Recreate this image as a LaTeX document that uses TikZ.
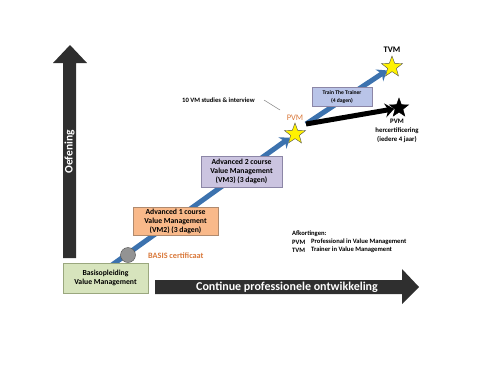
\documentclass[tikz,border=0pt]{standalone}
\usepackage{fontspec}
\setmainfont{Carlito}
\usetikzlibrary{shapes.geometric,arrows.meta}
\definecolor{darkarr}{HTML}{2F2F2F}
\definecolor{blueline}{HTML}{3C72AE}
\definecolor{greenfill}{HTML}{D7E4BD}
\definecolor{greenedge}{HTML}{9AA77E}
\definecolor{orangefill}{HTML}{F9B98A}
\definecolor{orangeedge}{HTML}{B08A6E}
\definecolor{lavfill}{HTML}{CBC4E0}
\definecolor{lavedge}{HTML}{8C86A6}
\definecolor{bluefill}{HTML}{B9C4E8}
\definecolor{orangetext}{HTML}{D9783A}
\tikzset{
  boxstyle/.style={draw, line width=0.8pt, align=center, font=\fontsize{7.7}{9}\selectfont\bfseries, inner sep=1pt},
  smalltext/.style={font=\fontsize{6.6}{8}\selectfont\bfseries, inner sep=0pt},
  ystar/.style={star, star points=5, star point ratio=2.4, draw=black!70, fill=yellow, line width=0.4pt, minimum size=22pt, inner sep=0pt},
  bstar/.style={star, star points=5, star point ratio=2.4, fill=black, draw=black, minimum size=20pt, inner sep=0pt},
  bluearrow/.style={draw=blueline, line width=5pt, -{Stealth[length=9pt,width=14pt]}},
  blackarrow/.style={draw=black, line width=5pt, -{Stealth[length=9pt,width=14pt]}},
}
\begin{document}
\begin{tikzpicture}[x=1pt,y=-1pt]
\useasboundingbox (0,0) rectangle (500,373);
% big arrows
\fill[darkarr] (63,258) -- (63,63) -- (53,63) -- (70,45) -- (87,63) -- (76,63) -- (76,258) -- cycle;
\node[rotate=90, text=white, font=\fontsize{11.5}{13}\selectfont\bfseries] (oef) at (69.5,152) {Oefening};
\fill[darkarr] (155,280) -- (402,280) -- (402,269) -- (419,287) -- (402,304) -- (402,294) -- (155,294) -- cycle;
\node[text=white, font=\fontsize{12}{14}\selectfont\bfseries] (cpo) at (287,287.5) {Continue professionele ontwikkeling};
% stars
\node[ystar] (pvmstar) at (295,134) {};
\node[ystar] (tvmstar) at (392,67) {};
\node[bstar] (bstar) at (399,108) {};
\coordinate (start) at (105,270);
\coordinate (pvmout) at (306,124);
% blue and black arrows
\draw[bluearrow] (start) -- (pvmstar);
\draw[bluearrow] (pvmout) -- (tvmstar);
\draw[blackarrow] (pvmout) -- (bstar);
% circle
\node[circle, fill=gray!85, draw=gray!60!black, line width=0.4pt, minimum size=15pt, inner sep=0pt] (circ) at (128,255) {};
% boxes
\node[boxstyle, fill=greenfill, draw=greenedge, minimum width=85pt, minimum height=30pt] (basis) at (105.5,278) {Basisopleiding\\Value Management};
\node[boxstyle, fill=orangefill, draw=orangeedge, minimum width=85pt, minimum height=28pt] (adv1) at (175.5,221) {Advanced 1 course\\Value Management\\(VM2) (3 dagen)};
\node[boxstyle, fill=lavfill, draw=lavedge, minimum width=81pt, minimum height=31pt] (adv2) at (241.5,171.5) {Advanced 2 course\\Value Management\\(VM3) (3 dagen)};
\node[boxstyle, fill=bluefill, draw=lavedge, minimum width=60pt, minimum height=19pt, font=\fontsize{5.6}{7.5}\selectfont\bfseries] (ttt) at (342,97) {Train The Trainer\\(4 dagen)};
% labels
\node[text=orangetext, font=\fontsize{8.2}{9}\selectfont\bfseries, anchor=west, inner sep=0pt] (basiscert) at (148,255.5) {BASIS certificaat};
\node[text=orangetext, font=\fontsize{8.5}{9}\selectfont] (pvmlbl) at (295,118) {PVM};
\node[font=\fontsize{8.5}{9}\selectfont\bfseries] (tvmlbl) at (392,50) {TVM};
\node[smalltext, align=center, font=\fontsize{6.8}{8.8}\selectfont\bfseries] (herc) at (397,131) {PVM\\hercertificering\\(iedere 4 jaar)};
\node[smalltext, anchor=west] (studies) at (182,100) {10 VM studies \& interview};
\coordinate (studend) at (280,110);
\coordinate (studstart) at (264,100);
\draw[gray, line width=0.5pt] (studstart) -- (studend);
% abbreviations
\node[smalltext, anchor=west] (afk) at (292,234) {Afkortingen:};
\node[smalltext, anchor=west] (p1) at (292,242) {PVM};
\node[smalltext, anchor=west] (p2) at (311,242) {Professional in Value Management};
\node[smalltext, anchor=west] (t1) at (292,250) {TVM};
\node[smalltext, anchor=west] (t2) at (311,250) {Trainer in Value Management};
\end{tikzpicture}
\end{document}
